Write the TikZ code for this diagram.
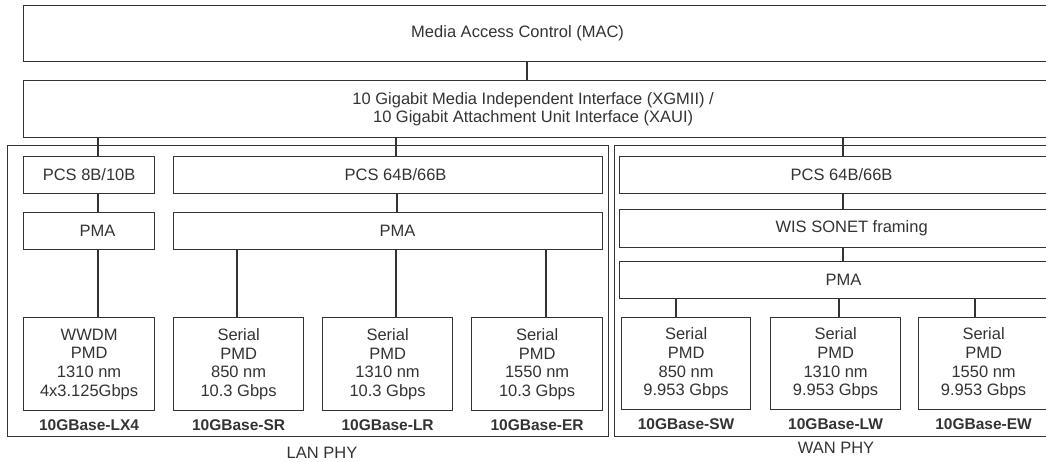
\documentclass[tikz,border=0pt]{standalone}
\usepackage{fontspec}
\setmainfont{Liberation Sans}
\usetikzlibrary{positioning}

\begin{document}
\begin{tikzpicture}[x=1pt,y=-1pt,
    font=\fontsize{16.5}{18.7}\selectfont, text=black!80,
    box/.style={draw=black!80, line width=1.2pt, inner sep=0pt, anchor=north west, align=center},
    pmd/.style={box, minimum width=130pt, minimum height=93pt},
    tag/.style={inner sep=0pt, font=\bfseries\fontsize{15.5}{18}\selectfont},
    link/.style={draw=black!80, line width=1.2pt}]
  \useasboundingbox (0,0) rectangle (1046,462);
  % upper layers
  \node[box, minimum width=1047pt, minimum height=56pt,
        label={[xshift=-29.5pt]center:Media Access Control (MAC)}] (mac) at (23,5) {};
  \node[box, minimum width=1047pt, minimum height=57pt,
        label={[xshift=-14pt, align=center]center:10 Gigabit Media Independent Interface (XGMII) /\\10 Gigabit Attachment Unit Interface (XAUI)}] (xg) at (23,80) {};
  % LAN PHY
  \node[box, minimum width=601pt, minimum height=291pt] (lan) at (7,145) {};
  \node[box, minimum width=131pt, minimum height=37pt] (pcsa) at (23,156) {PCS 8B/10B};
  \node[box, minimum width=429pt, minimum height=37pt,
        label={[xshift=7.5pt]center:PCS 64B/66B}] (pcsb) at (173,156) {};
  \node[box, minimum width=131pt, minimum height=37pt,
        label={[xshift=8.5pt]center:PMA}] (pmaa) at (23,212) {};
  \node[box, minimum width=429pt, minimum height=37pt,
        label={[xshift=9.5pt]center:PMA}] (pmab) at (173,212) {};
  \node[pmd, minimum width=131pt] (lx4) at (23,317) {WWDM\\PMD\\1310 nm\\4x3.125Gbps};
  \node[pmd] (sr) at (173,317) {Serial\\PMD\\850 nm\\10.3 Gbps};
  \node[pmd] (lr) at (322,317) {Serial\\PMD\\1310 nm\\10.3 Gbps};
  \node[pmd, minimum width=131pt] (er) at (471,317) {Serial\\PMD\\1550 nm\\10.3 Gbps};
  \node[tag, below=8.5pt of lx4] (lx4t) {10GBase-LX4};
  \node[tag, below=8.5pt of sr] (srt) {10GBase-SR};
  \node[tag, below=8.5pt of lr] (lrt) {10GBase-LR};
  \node[tag, below=8.5pt of er] (ert) {10GBase-ER};
  \node (lanl) at (322,453) {LAN PHY};
  % WAN PHY
  \node[box, minimum width=456pt, minimum height=291pt] (wan) at (614,145) {};
  \node[box, minimum width=444pt, minimum height=37pt] (pcsw) at (619,156) {PCS 64B/66B};
  \node[box, minimum width=464pt, minimum height=38pt] (wis) at (619,209) {WIS SONET framing};
  \node[box, minimum width=448pt, minimum height=37pt] (pmaw) at (619,261) {PMA};
  \node[pmd, minimum width=129pt, minimum height=92pt] (sw) at (621,317) {Serial\\PMD\\850 nm\\9.953 Gbps};
  \node[pmd, minimum height=92pt] (lw) at (770,317) {Serial\\PMD\\1310 nm\\9.953 Gbps};
  \node[pmd, minimum height=92pt] (ew) at (918,317) {Serial\\PMD\\1550 nm\\9.953 Gbps};
  \node[tag, below=8.5pt of sw] (swt) {10GBase-SW};
  \node[tag, below=8.5pt of lw] (lwt) {10GBase-LW};
  \node[tag, below=8.5pt of ew] (ewt) {10GBase-EW};
  \node (wanl) at (836,448) {WAN PHY};
  % connectors
  \foreach \n/\x in {c0/527, ca/98, cb/396, cc/397, cw/843, c1/237, c2/396, c3/546, c4/676, c5/839, c6/975}
    \coordinate (\n) at (\x,0);
  \foreach \a/\b/\c in {mac/xg/c0, xg/pcsa/ca, xg/pcsb/cb, xg/pcsw/cw, pcsa/pmaa/ca, pmaa/lx4/ca,
      pcsb/pmab/cc, pmab/sr/c1, pmab/lr/c2, pmab/er/c3, pcsw/wis/cw, wis/pmaw/cw,
      pmaw/sw/c4, pmaw/lw/c5, pmaw/ew/c6}
    \draw[link] (\a.south -| \c) -- (\b.north -| \c);
\end{tikzpicture}
\end{document}
